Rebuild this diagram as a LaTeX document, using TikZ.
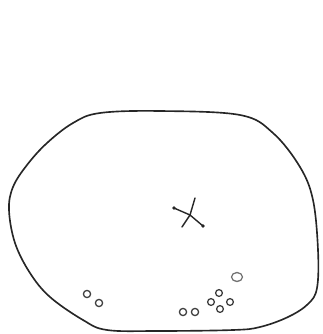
\documentclass[tikz,border=0pt]{standalone}
\begin{document}
\begin{tikzpicture}[x=0.03cm,y=-0.03cm,
  outline/.style={line width=1.4pt,black!85},
  ring/.style={line width=1.1pt,black!75},
  arm/.style={line width=1.2pt,black!85,line cap=round}]
\useasboundingbox (0,0) rectangle (322,334);
\draw[outline] plot[smooth cycle,tension=0.6] coordinates {
 (160,111) (240,115) (273,133) (300,167) (313,200) (318,250) (317,288)
 (308,304) (288,317) (260,327) (233,330) (157,331) (107,330) (83,320)
 (50,297) (30,273) (15,243) (9,210) (13,187) (27,165) (47,143) (73,123) (100,113)};
% cross
\coordinate (c) at (190,215);
\coordinate (a1) at (174,208);
\coordinate (a2) at (195,198);
\coordinate (a3) at (203,226);
\coordinate (a4) at (182,227);
\draw[arm] (c) -- (a1);
\draw[arm] (c) -- (a2);
\draw[arm] (c) -- (a3);
\draw[arm] (c) -- (a4);
\fill[black!85] (a1) circle (1.8);
\fill[black!85] (a3) circle (1.8);
% small rings
\draw[ring] (87,294) circle (3.6);
\draw[ring] (99,303) circle (3.6);
\draw[ring] (183,312) circle (3.6);
\draw[ring] (195,312) circle (3.6);
\draw[ring] (219,293) circle (3.4);
\draw[ring] (211,302) circle (3.4);
\draw[ring] (230,302) circle (3.4);
\draw[ring] (220,309) circle (3.4);
\draw[ring,black!55] (237,277) ellipse (5.5 and 4.5);
\end{tikzpicture}
\end{document}
